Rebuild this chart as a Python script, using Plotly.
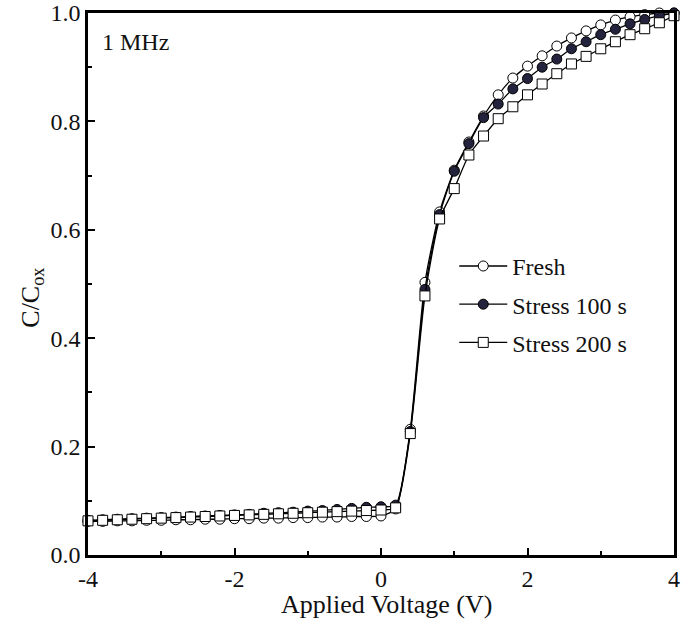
import plotly.graph_objects as go

voltage = [-4.0, -3.8, -3.6, -3.4, -3.2, -3.0, -2.8, -2.6, -2.4, -2.2, -2.0,
           -1.8, -1.6, -1.4, -1.2, -1.0, -0.8, -0.6, -0.4, -0.2, 0.0,
           0.2, 0.4, 0.6, 0.8, 1.0, 1.2, 1.4, 1.6, 1.8, 2.0,
           2.2, 2.4, 2.6, 2.8, 3.0, 3.2, 3.4, 3.6, 3.8, 4.0]

fresh = [0.062, 0.062, 0.063, 0.063, 0.064, 0.064, 0.065, 0.065, 0.066, 0.066, 0.067,
         0.067, 0.068, 0.068, 0.069, 0.069, 0.070, 0.070, 0.071, 0.071, 0.072,
         0.085, 0.232, 0.503, 0.633, 0.710, 0.762, 0.810, 0.849, 0.880, 0.902,
         0.921, 0.939, 0.954, 0.967, 0.978, 0.987, 0.993, 0.997, 1.000, 1.000]

stress100 = [0.064, 0.065, 0.066, 0.067, 0.068, 0.069, 0.070, 0.071, 0.072, 0.073, 0.074,
             0.075, 0.077, 0.078, 0.079, 0.081, 0.082, 0.084, 0.086, 0.088, 0.089,
             0.092, 0.228, 0.490, 0.628, 0.708, 0.759, 0.807, 0.832, 0.860, 0.879,
             0.900, 0.915, 0.934, 0.947, 0.960, 0.970, 0.980, 0.988, 0.995, 1.000]

stress200 = [0.063, 0.064, 0.065, 0.066, 0.067, 0.068, 0.069, 0.070, 0.071, 0.072, 0.073,
             0.074, 0.075, 0.076, 0.077, 0.078, 0.079, 0.080, 0.081, 0.082, 0.083,
             0.087, 0.224, 0.478, 0.620, 0.676, 0.738, 0.773, 0.805, 0.827, 0.849,
             0.869, 0.888, 0.906, 0.920, 0.934, 0.947, 0.960, 0.971, 0.982, 0.995]

series_names = ["Fresh", "Stress 100 s", "Stress 200 s"]

FONT = "Liberation Serif"
TXT = "#111111"

fig = go.Figure()

specs = [
    (fresh, series_names[0], dict(symbol="circle", size=10, color="white", line=dict(color="black", width=1))),
    (stress100, series_names[1], dict(symbol="circle", size=10, color="#23233d", line=dict(color="black", width=1))),
    (stress200, series_names[2], dict(symbol="square", size=10, color="white", line=dict(color="black", width=1))),
]
for i, (ys, name, mk) in enumerate(specs):
    fig.add_trace(go.Scatter(
        x=voltage, y=ys, name=name, mode="lines+markers",
        line=dict(color="black", width=1.3, shape="spline", smoothing=0.6),
        marker=mk, cliponaxis=False, legendgroup="g%d" % i,
    ))

axis_common = dict(
    showline=True, linecolor="black", linewidth=2.5, mirror=True,
    ticks="inside", ticklen=7, tickwidth=2, tickcolor="black",
    showgrid=False, zeroline=False, automargin=False,
    ticklabeloverflow="allow",
    tickfont=dict(family=FONT, size=24, color=TXT),
)

fig.update_xaxes(
    range=[-4, 4], tickvals=[-4, -2, 0, 2, 4], ticktext=["-4", "-2", "0", "2", "4"],
    minor=dict(tickvals=[-3, -1, 1, 3], ticks="inside", ticklen=4, tickwidth=2, tickcolor="black"),
    ticklabelstandoff=0,
    **axis_common,
)
fig.update_yaxes(
    range=[0, 1.0], tickvals=[0, 0.2, 0.4, 0.6, 0.8, 1.0],
    ticktext=["0.0", "0.2", "0.4", "0.6", "0.8", "1.0"],
    minor=dict(tickvals=[0.1, 0.3, 0.5, 0.7, 0.9], ticks="inside", ticklen=4, tickwidth=2, tickcolor="black"),
    ticklabelstandoff=0,
    **axis_common,
)

fig.add_annotation(
    text="1 MHz", xref="paper", yref="paper", x=0.02, y=0.947,
    xanchor="left", yanchor="middle", showarrow=False,
    font=dict(family=FONT, size=24, color=TXT),
)
fig.add_annotation(
    text="Applied Voltage (V)", xref="paper", yref="paper", x=0.51, y=-0.092,
    xanchor="center", yanchor="middle", showarrow=False,
    font=dict(family=FONT, size=26, color=TXT),
)
fig.add_annotation(
    text="C/C<sub>ox</sub>", xref="paper", yref="paper", x=-0.097, y=0.475,
    xanchor="center", yanchor="middle", showarrow=False, textangle=-90,
    font=dict(family=FONT, size=26, color=TXT),
)

fig.update_layout(
    width=681, height=621,
    margin=dict(l=88, r=7, t=13, b=66),
    paper_bgcolor="white", plot_bgcolor="white",
    showlegend=True,
    legend=dict(
        x=0.625, y=0.574, xanchor="left", yanchor="top",
        font=dict(family=FONT, size=24, color=TXT),
        bgcolor="rgba(0,0,0,0)", itemwidth=48, tracegroupgap=4,
    ),
)

fig.write_html("out.html", config={"displayModeBar": False},
               post_script="document.body.style.margin='0';")
